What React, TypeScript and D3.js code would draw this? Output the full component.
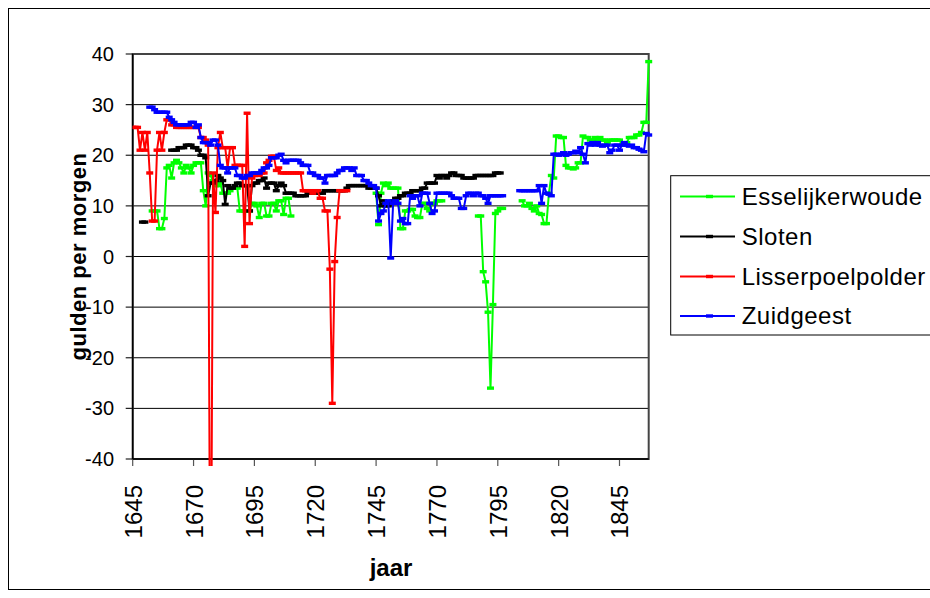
import React from 'react';
import * as d3 from 'd3';

const firstYear = 1645;
const lastYear = 1857;
const xTickLabels = [1645, 1670, 1695, 1720, 1745, 1770, 1795, 1820, 1845];
const yTickValues = [-40, -30, -20, -10, 0, 10, 20, 30, 40];

const n = null;
// values per year, starting at 1645 (rows of ten years, first row 1645-1649)
const esselijkerwoude: (number | null)[] = [
  n, n, n, n, n,
  n, n, n, 9, 9, 9, 5.5, 5.5, 7.5, 17.5,
  18, 15.5, 18.5, 19, 18.5, 17.5, 16.5, 18, 17.5, 16.5,
  18, 18.5, 18.5, 18.5, 13, 10, 16.5, 16, 15, 14,
  14, 14.5, 12.5, 12.5, 12.5, 13, 13.5, 13.5, 13.5, 9,
  9, 9, 9, 9, 10.5, 10.5, 10, 7.7, 10.5, 10.5,
  8, 8, 10.5, 10.5, 9, 11, 11, 8.3, 11.5, 11.5,
  8, n, n, n, n, n, n, n, n, n,
  n, n, n, n, n, n, n, n, n, n,
  n, n, n, n, n, n, n, n, n, n,
  n, n, n, n, n, 12.5, 6.3, 12.5, 14.5, 14,
  14.5, 13.5, 13.5, 13.5, 13.5, 5.5, 5.5, 9, 9, 9.3,
  9.3, 8, 7.7, 7.7, 10.5, 10.5, 9.5, 9, 10.5, 10.5,
  11, 11, 11, n, n, n, n, n, n, n,
  n, n, n, n, n, n, n, 8, 8, -3,
  -5, -11, -26, -9.5, 8.5, 9, 9.5, 9.5, n, n,
  n, n, n, n, n, 11, 10, 10, 10.5, 9.5,
  9, 10, 8.5, 8.3, 6.5, 6.5, 12.5, 16, 15.5, 23.8,
  23.8, 23.5, 23.5, 18, 17.5, 17.5, 17.3, 17.5, 18.5, 18.5,
  23.8, 23.5, 23.5, 23, 23, 23.5, 23, 23.5, 23, 23,
  22.5, 23, 23, 23, 23, 23, 22, 22, 22.5, 23.5,
  23.5, 23.5, 24, 24, 24.5, 26.5, 26.5, 38.5,
];

const sloten: (number | null)[] = [
  n, n, n, n, 6.8,
  6.8, n, n, n, n, n, n, n, n, n,
  n, 21, 21, 21, 21.5, 21.5, 21.5, 22, 22, 22,
  21.5, 21.5, 21, 20, 20, 19.5, 12, 14.5, 14.5, 15,
  16, 15.5, 15, 10.3, 14, 13.5, 13.5, 14, 14.5, 14.5,
  14, 14, 14, 9, 14, 14.5, 14.5, 15, 15, 15.5,
  13.5, 14.5, 14.5, 14.5, 13, 14, 14.5, 14, 12.5, 12.5,
  12.5, 12.5, 12, 12, 12, 12, 12, 12.5, 12.5, 12.5,
  12.5, 12.5, 12.5, 12.5, 13, 13, 13, 13, 13, 13,
  13, 13, 13, 13.5, 14, 14, 14, 14, 14, 14,
  14, 14, 13.5, 13.5, 13.5, 13.5, 12, 10, 11, 10,
  10, 10.5, 11, 11.5, 11.5, 12, 12, 12.5, 12.5, 12.5,
  13, 13, 13, 13, 13.5, 13.5, 14.5, 14.5, 14.5, 14.5,
  16, 15.5, 16, 16, 15.5, 16, 16.5, 16.5, 16, 16,
  16, 15.5, 15.5, 15.5, 15.5, 15.5, 16, 16, 16, 16,
  16, 16, 16, 16, 16.5, 16.5, 16.5,
];

const lisserpoelpolder: (number | null)[] = [
  25.5, 25.5, 25.5, 21, 24.5,
  21, 24.5, 16.5, 7, 7, 21, 24.5, 21, 24.5, 27,
  27, 26, 26, 25.5, 25.5, 25.5, 25.5, 25.5, 25.5, 25.5,
  25.5, 25.5, 25.5, 23.5, 23.5, 23, 22, -88, 16.5, 8.7,
  21.5, 24.5, 21.5, 21.5, 17.5, 21.5, 21.5, 18, 18, 18,
  18, 2, 28.3, 6.5, 15.5, 16, 16.5, 16, 16.5, 16.5,
  18.5, 19, 19.8, 19.8, 17, 17.5, 16.5, 16.5, 16.5, 16.5,
  16.5, 16.5, 16.5, 16.5, 16.5, 13, 13, 13, 13, 12.5,
  13, 13, 11.5, 11.5, 9, 9, -2.5, -29, -1, 7.7,
  13, 13, 13, 13,
];

const zuidgeest: (number | null)[] = [
  n, n, n, n, n,
  n, n, 29.5, 29.5, 29, 28.5, 28.5, 28.5, 28.5, 28.5,
  27.5, 27, 26.5, 26, 26, 26, 26, 26, 26, 26.5,
  26.5, 25.5, 26, 23.5, 22.5, 22.5, 22.5, 22, 23, 23,
  22, 18, 17.5, 17.5, 16.5, 17.5, 17.5, 17.5, 16, 16,
  15.5, 15.5, 16, 16, 16.5, 16.5, 16.5, 16.5, 17, 17.5,
  17.5, 18, 19.5, 19.5, 19.5, 20, 20.2, 19, 18.5, 19,
  19, 19, 19, 19, 18.5, 18, 18, 18, 16.5, 16.5,
  16, 16, 15.5, 15.5, 14.5, 16, 16, 16, 16, 16.5,
  17, 17, 17.5, 17.5, 17.5, 17, 17.5, 16, 16, 16,
  15, 15, 14.5, 14, 14, 13.5, 7, 8.5, 9, 10.5,
  11, -0.3, 10.5, 11, 10.5, 7, 7.5, 6.5, 6.5, 12,
  11.5, 12, 12, 10, 12.5, 12.5, 12.5, 10.5, 8.5, 9,
  12.5, 12.5, 12.5, 12.5, 12.5, 12.5, 12, 11.5, 11.5, 11.5,
  9.5, 9.5, 12, 12.5, 12.5, 12, 12.5, 12.5, 12, 12,
  11.5, 10.5, 12, 12, 12, 12, 12, 12, n, n,
  n, n, n, n, 13, 13, 13, 13, 13, 13,
  13, 13, 14, 10.5, 14, 12.5, 12.3, 12, 20.2, 20.2,
  20, 20.2, 20.5, 20, 20.2, 20.5, 20.5, 20.8, 20.5, 21.5,
  20.2, 18.5, 22.3, 22, 22.5, 22, 22.5, 22, 21.8, 22,
  22, 20.5, 21, 22, 22, 21, 22, 22.5, 22, 21.8,
  22, 21.5, 21.5, 21.2, 21, 20.7, 24.3, 24,
];

const seriesNames = ['Esselijkerwoude', 'Sloten', 'Lisserpoelpolder', 'Zuidgeest'];
const seriesColors = ['#00FF00', '#000000', '#FF0000', '#0000FF'];
const seriesValues = [esselijkerwoude, sloten, lisserpoelpolder, zuidgeest];

const FONT = '"Liberation Sans", Arial, sans-serif';

export default function App() {
  const W = 930;
  const H = 598;
  const left = 132.7;
  const right = 648.7;
  const top = 54;
  const bottom = 459;

  const x = d3.scaleLinear().domain([firstYear, lastYear]).range([left, right]);
  const y = d3.scaleLinear().domain([-40, 40]).range([bottom, top]);

  type Pt = [number, number | null];
  const line = d3
    .line<Pt>()
    .defined((d) => d[1] !== null)
    .x((d) => x(d[0]))
    .y((d) => y(d[1] as number));

  const data = seriesValues.map((vals) => vals.map((v, i) => [firstYear + i, v] as Pt));

  const legendY = [196.5, 236.5, 276.5, 316];

  return (
    <svg
      width={W}
      height={H}
      style={{ position: 'absolute', left: 0, top: 0, background: '#fff' }}
      fontFamily={FONT}
    >
      <rect x={0} y={0} width={W} height={H} fill="#fff" />
      <rect x={8.5} y={8.5} width={940} height={581} fill="none" stroke="#000" strokeWidth={1} />
      <defs>
        <clipPath id="plotClip">
          <rect x={left} y={top - 6} width={right - left + 6} height={bottom - top + 13} />
        </clipPath>
      </defs>
      {yTickValues.map((v) => (
        <line key={'g' + v} x1={left} x2={right} y1={y(v)} y2={y(v)} stroke="#000" strokeWidth={1} />
      ))}
      <rect x={left} y={top} width={right - left} height={bottom - top} fill="none" stroke="#444" strokeWidth={2} />
      {yTickValues.map((v) => (
        <g key={'yt' + v}>
          <line x1={left - 7} x2={left} y1={y(v)} y2={y(v)} stroke="#222" strokeWidth={1.2} />
          <text x={114} y={y(v)} dy="0.35em" textAnchor="end" fontSize={20} fill="#000">
            {v}
          </text>
        </g>
      ))}
      {xTickLabels.map((v) => (
        <g key={'xt' + v}>
          <line x1={x(v)} x2={x(v)} y1={bottom} y2={bottom + 7} stroke="#555" strokeWidth={1.2} />
          <text
            transform={`translate(${x(v) + 9},485) rotate(-90)`}
            textAnchor="end"
            fontSize={24}
            fill="#000"
          >
            {v}
          </text>
        </g>
      ))}
      <line x1={left} x2={left} y1={top} y2={bottom} stroke="#000" strokeWidth={1.5} />
      <line x1={left} x2={right} y1={bottom} y2={bottom} stroke="#000" strokeWidth={1.5} />
      <g clipPath="url(#plotClip)">
        {data.map((pts, si) => (
          <g key={seriesNames[si]}>
            <path d={line(pts) || ''} fill="none" stroke={seriesColors[si]} strokeWidth={2} strokeLinejoin="round" />
            {pts
              .filter((p) => p[1] !== null)
              .map((p) => (
                <rect
                  key={p[0]}
                  x={x(p[0]) - 3.5}
                  y={y(p[1] as number) - 1.7}
                  width={7}
                  height={3.4}
                  fill={seriesColors[si]}
                />
              ))}
          </g>
        ))}
      </g>
      <text
        transform={`translate(86,${(top + bottom) / 2}) rotate(-90)`}
        textAnchor="middle"
        fontSize={22}
        fontWeight="bold"
        fill="#000"
        letterSpacing={0.5}
      >
        gulden per morgen
      </text>
      <text x={391} y={576} textAnchor="middle" fontSize={24} fontWeight="bold" fill="#000">
        jaar
      </text>
      <rect x={670.7} y={175.7} width={300} height={159.3} fill="#fff" stroke="#000" strokeWidth={1} />
      {seriesNames.map((name, i) => (
        <g key={'lg' + name}>
          <line x1={680} x2={735} y1={legendY[i]} y2={legendY[i]} stroke={seriesColors[i]} strokeWidth={2} />
          <rect x={706} y={legendY[i] - 1.7} width={7} height={3.4} fill={seriesColors[i]} />
          <text x={741.7} y={legendY[i]} dy="0.35em" fontSize={24} fill="#000" letterSpacing={0.5}>
            {name}
          </text>
        </g>
      ))}
    </svg>
  );
}
